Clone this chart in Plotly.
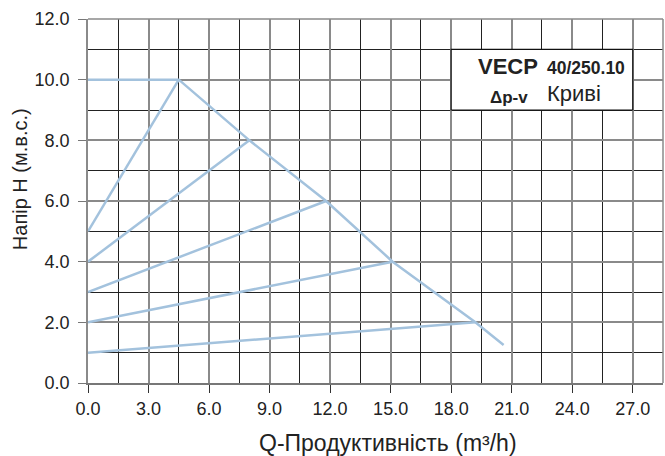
import plotly.graph_objects as go

# Max curve (polyline) and Δp-v curves
max_q = [0.0, 4.5, 8.0, 11.8, 15.1, 19.2, 20.6]
max_h = [10.0, 10.0, 8.0, 6.0, 4.0, 2.0, 1.25]

dpv_start_h = [5.0, 4.0, 3.0, 2.0, 1.0]
dpv_end_q = [4.5, 8.0, 11.8, 15.1, 19.2]
dpv_end_h = [10.0, 8.0, 6.0, 4.0, 2.0]

x_ticks = [0, 3, 6, 9, 12, 15, 18, 21, 24, 27]
y_ticks = [0, 2, 4, 6, 8, 10, 12]

line_color = "#a3c2dd"
font_family = "Liberation Sans, Arial, sans-serif"

fig = go.Figure()
fig.add_trace(go.Scatter(x=max_q, y=max_h, mode="lines",
                         line=dict(color=line_color, width=2.5), showlegend=False))
for h0, q1, h1 in zip(dpv_start_h, dpv_end_q, dpv_end_h):
    fig.add_trace(go.Scatter(x=[0, q1], y=[h0, h1], mode="lines",
                             line=dict(color=line_color, width=2.5), showlegend=False))

fig.update_layout(
    width=665, height=456,
    margin=dict(l=88, r=2, t=19, b=73),
    paper_bgcolor="white", plot_bgcolor="white",
    font=dict(family=font_family, size=18, color="#222"),
    xaxis=dict(range=[0, 28.5], tickvals=x_ticks,
               ticktext=[f"{v:.1f}" for v in x_ticks],
               showgrid=True, gridcolor="#8a8a8a", gridwidth=1.5,
               minor=dict(dtick=1.5, tick0=0, showgrid=True, gridcolor="#222", gridwidth=1),
               zeroline=False, showline=True, linecolor="#777", linewidth=1.5,
               ticks="outside", ticklen=8, tickcolor="#333", mirror=False,
               ticklabelstandoff=1,
               tickfont=dict(size=18, color="#222")),
    yaxis=dict(range=[0, 12], tickvals=y_ticks,
               ticktext=[f"{v:.1f}" for v in y_ticks],
               showgrid=True, gridcolor="#8a8a8a", gridwidth=1.5,
               minor=dict(dtick=1, tick0=0, showgrid=True, gridcolor="#222", gridwidth=1),
               zeroline=False, showline=True, linecolor="#8a8a8a", linewidth=1.5,
               ticks="outside", ticklen=8, tickcolor="#777",
               ticklabelstandoff=5,
               tickfont=dict(size=18, color="#222")),
)

# right and top borders
fig.add_shape(type="line", xref="paper", yref="paper", x0=1, x1=1, y0=0, y1=1,
              line=dict(color="#8a8a8a", width=1.5))
fig.add_shape(type="line", xref="paper", yref="paper", x0=0, x1=1, y0=1, y1=1,
              line=dict(color="#8a8a8a", width=1.5))

# label box
fig.add_shape(type="rect", x0=18, x1=27, y0=9, y1=11,
              fillcolor="white", line=dict(color="#111", width=1.2), layer="above")

fig.add_annotation(x=0.5217, y=-0.165, xref="paper", yref="paper",
                   text="Q-Продуктивність (m³/h)", showarrow=False,
                   font=dict(size=23, color="#222"), xanchor="center", yanchor="middle")
fig.add_annotation(x=-0.118, y=0.5604, xref="paper", yref="paper",
                   text="Напір H (м.в.с.)", showarrow=False, textangle=-90,
                   font=dict(size=20, color="#222"), xanchor="center", yanchor="middle")

fig.add_annotation(x=22.41, y=10.42, text="<b>VECP</b>", showarrow=False,
                   font=dict(size=22, color="#222"), xanchor="right", yanchor="middle")
fig.add_annotation(x=22.66, y=10.38, text="<b>40/250.10</b>", showarrow=False,
                   font=dict(size=17.5, color="#222"), xanchor="left", yanchor="middle")
fig.add_annotation(x=21.9, y=9.4, text="<b>Δp-v</b>", showarrow=False,
                   font=dict(size=17, color="#222"), xanchor="right", yanchor="middle")
fig.add_annotation(x=22.66, y=9.56, text="Криві", showarrow=False,
                   font=dict(size=22, color="#222"), xanchor="left", yanchor="middle")

fig.write_html("out.html")
